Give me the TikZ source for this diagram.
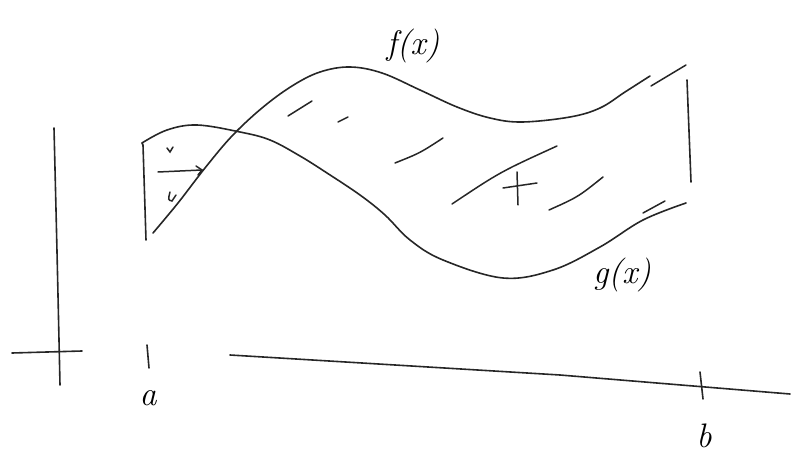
\documentclass[tikz,border=0pt]{standalone}
\begin{document}
\begin{tikzpicture}[x=1pt,y=-1pt,
  pen/.style={line width=1.6pt,line cap=round,line join=round,black!85},
  hatch/.style={line width=1.5pt,line cap=round,black!85},
  lbl/.style={font=\fontsize{34}{36}\selectfont\itshape,inner sep=0pt}]
\useasboundingbox (0,0) rectangle (792,454);
% axes
\draw[pen] (54,128) .. controls (57,250) .. (60,385);
\draw[pen] (12,353) -- (82,351);
\draw[pen] (230,355) -- (560,375) -- (790,394);
% ticks
\draw[pen] (147,345) -- (149,368);
\draw[pen] (700,372) -- (703,399);
\node[lbl] (a) at (148,398) {a};
\node[lbl] (b) at (704,436) {b};
% curves
\draw[pen] plot[smooth,tension=0.6] coordinates {(153,233) (178,203) (205,168) (232,136) (262,108) (292,86) (320,72) (350,67) (382,73) (420,90) (457,107) (490,118) (522,122) (570,117) (600,108) (625,92) (650,76)};
\draw[pen] plot[smooth,tension=0.6] coordinates {(142,143) (167,130) (197,125) (240,132) (270,140) (300,156) (327,173) (360,195) (385,215) (410,240) (443,260) (503,278) (553,270) (600,247) (643,220) (686,203)};
% verticals
\draw[pen] (142,143) -- (143,145) -- (146,240);
\draw[pen] (687,80) -- (691,182);
% labels
\node[lbl] (f) at (413,46) {f(x)};
\node[lbl] (g) at (622,275) {g(x)};
% hatch marks
\draw[hatch] (288,116) -- (312,101);
\draw[hatch] (338,122) -- (348,117);
\draw[hatch] (395,163) .. controls (420,153) .. (443,138);
\draw[hatch] (452,204) .. controls (500,172) .. (557,146);
\draw[hatch] (549,210) .. controls (578,197) .. (603,177);
\draw[hatch] (643,213) -- (665,201);
\draw[hatch] (651,86) -- (686,65);
% plus sign
\draw[hatch] (517,172) -- (518,205);
\draw[hatch] (503,188) -- (537,183);
% marks in left part
\draw[hatch] (167,148) -- (170,152) -- (173,147);
\draw[hatch] (158,172) -- (202,170);
\draw[hatch] (196,166) -- (202,170) -- (198,175);
\draw[hatch] (170,192) .. controls (168,200) .. (172,201) -- (176,195);
\end{tikzpicture}
\end{document}
